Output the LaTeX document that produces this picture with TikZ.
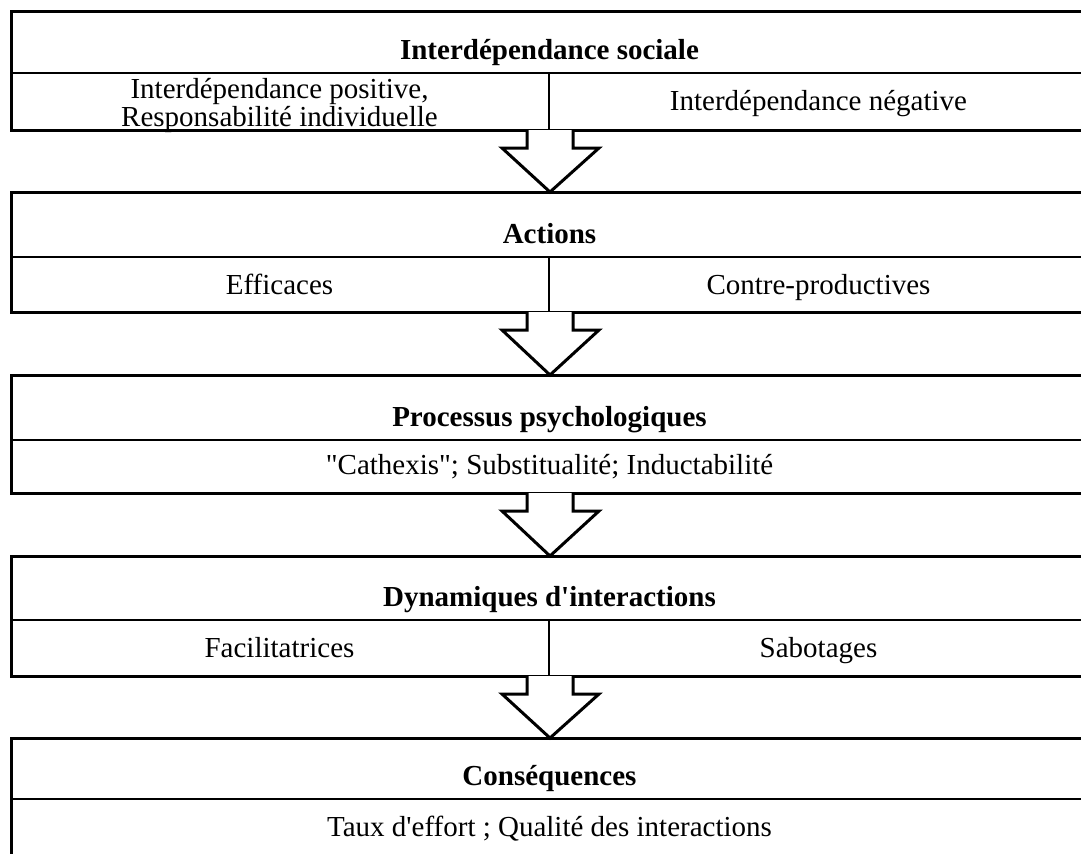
\documentclass[tikz,border=0pt]{standalone}
\usepackage{fontspec}
\setmainfont{Liberation Serif}
\usetikzlibrary{positioning, calc}
\tikzset{%
  frame/.style   = {line width = 1.2pt}, % outer border of a block
  sepline/.style = {line width = 0.8pt},
  divider/.style = {line width = 0.55pt},
  hollow/.style  = {line width = 1.2pt, fill = white}, % block arrow
  title/.style   = {anchor = base, inner sep = 0pt, font = \fontsize{11.6}{11.2}\selectfont\bfseries},
  body/.style    = {anchor = base, inner sep = 0pt, font = \fontsize{11.6}{11.2}\selectfont}
}
\newcommand{\blockarrow}[2]{%
  \draw[hollow] ($(#1)+(-23,0)$) -- ++(0,18) -- ++(-25,0) -- (#2)
    -- ($(#1)+(49,18)$) -- ++(-26,0) -- ++(0,-18);}

\begin{document}
\begin{tikzpicture}[x = 0.4pt, y = -0.4pt]
\useasboundingbox (0,0) rectangle (1081,854);
%block frames
\foreach \ya/\yb/\yc [count = \i] in {11/73/130, 192/257/312, 375/440/493, 556/620/676, 738/799/880} {
  \draw[sepline] (11,\yb) -- (1088,\yb);
  \draw[frame] (11,\ya) rectangle (1088,\yc);
  \coordinate (top\i) at (550,\ya);
  \coordinate (bot\i) at (550,\yc);
}
\draw[divider] (549,73) -- (549,130);
\draw[divider] (549,257) -- (549,312);
\draw[divider] (549,620) -- (549,676);
%arrows between blocks
\blockarrow{bot1}{top2}
\blockarrow{bot2}{top3}
\blockarrow{bot3}{top4}
\blockarrow{bot4}{top5}
%titles
\node[title] (h1) at (549.5,59) {Interdépendance sociale};
\node[title] (h2) at (549.5,243) {Actions};
\node[title] (h3) at (549.5,426) {Processus psychologiques};
\node[title] (h4) at (549.5,606) {Dynamiques d\textquotesingle interactions};
\node[title] (h5) at (549.5,785) {Conséquences};
%cell texts
\node[body, anchor = center, align = center] (c1a) at (279.5,106)
  {Interdépendance positive,\\Responsabilité individuelle};
\node[body] (c1b) at (818.5,110) {Interdépendance négative};
\node[body] (c2a) at (279.5,294) {Efficaces};
\node[body] (c2b) at (818.5,294) {Contre-productives};
\node[body] (c3) at (549.5,474) {\textquotedbl Cathexis\textquotedbl; Substitualité; Inductabilité};
\node[body] (c4a) at (279.5,657) {Facilitatrices};
\node[body] (c4b) at (818.5,657) {Sabotages};
\node[body] (c5) at (549.5,836) {Taux d\textquotesingle effort ; Qualité des interactions};
\end{tikzpicture}
\end{document}
